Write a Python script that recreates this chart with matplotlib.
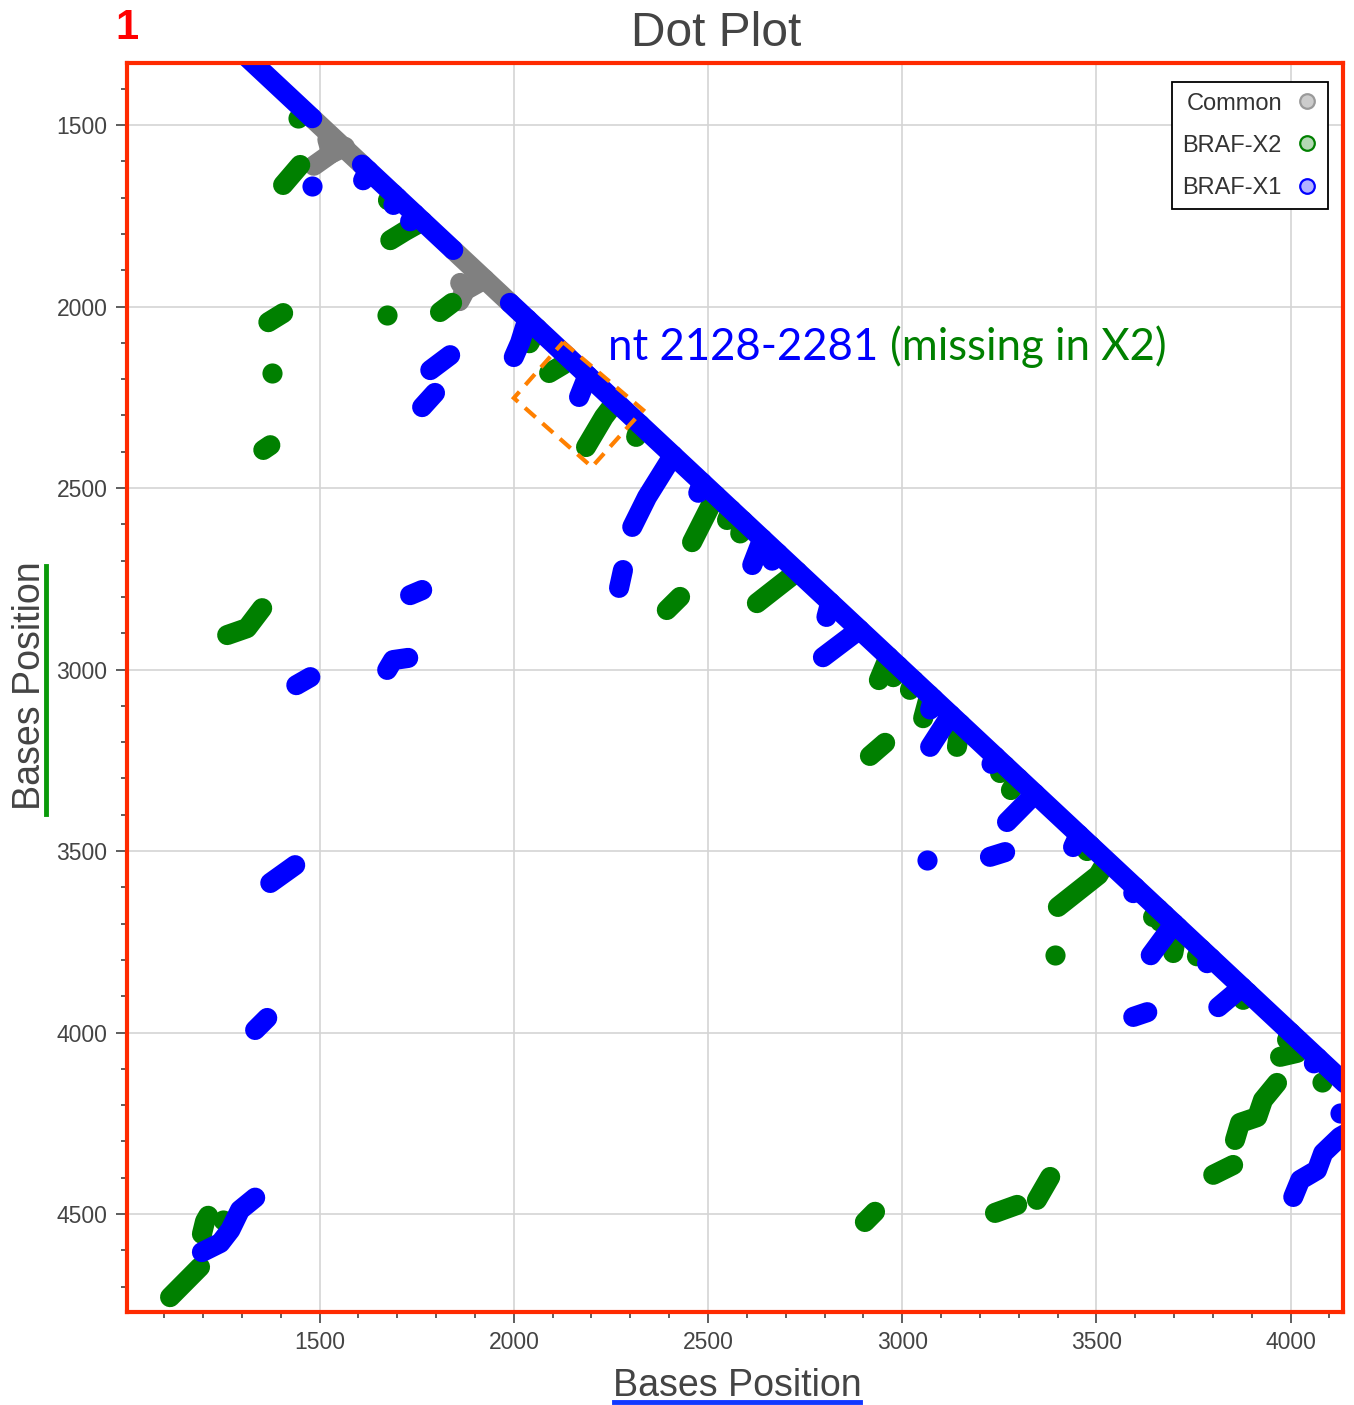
import matplotlib
matplotlib.use("Agg")
import matplotlib.pyplot as plt
from matplotlib.collections import LineCollection
from matplotlib.lines import Line2D
from matplotlib.patches import Polygon
from matplotlib.ticker import MultipleLocator

W, H, DPI = 1354, 1405, 100

# ---- match runs: each path is a chain of (x position, y position) points ----
common_paths = [
    [(1481, 1481), (1609, 1609)],
    [(1844, 1844), (1990, 1990)],
    [(1565, 1560), (1530, 1578), (1485, 1612)],
    [(1530, 1578), (1520, 1540)],
    [(1925, 1925), (1875, 1955), (1860, 1985)],
    [(1875, 1955), (1862, 1935)],
]

x2_paths = [
    [(1450, 1610), (1406, 1665)],
    [(1765, 1765), (1720, 1792), (1682, 1817)],
    [(1368, 2043), (1406, 2018)],
    [(1810, 2015), (1841, 1990)],
    [(1355, 2395), (1373, 2382)],
    [(2127, 2160), (2091, 2183)],
    [(2262, 2262), (2232, 2304), (2186, 2387)],
    [(2325, 2325), (2315, 2359)],
    [(2394, 2836), (2428, 2800)],
    [(2520, 2520), (2459, 2649)],
    [(2730, 2730), (2626, 2817)],
    [(2917, 3238), (2956, 3202)],
    [(2965, 2965), (2940, 3029)],
    [(3070, 3070), (3054, 3134)],
    [(3150, 3150), (3141, 3213)],
    [(3300, 3300), (3280, 3332)],
    [(3525, 3530), (3505, 3566), (3401, 3654)],
    [(3710, 3710), (3698, 3781)],
    [(3890, 3890), (3878, 3910)],
    [(3973, 4067), (4017, 4056)],
    [(3965, 4139), (3929, 4186), (3914, 4233), (3870, 4249), (3857, 4296)],
    [(3801, 4392), (3852, 4365)],
    [(3347, 4461), (3381, 4398)],
    [(3239, 4497), (3296, 4475)],
    [(2904, 4522), (2930, 4494)],
    [(1192, 4646), (1115, 4729)],
    [(1197, 4555), (1205, 4520), (1213, 4505)],
    [(1262, 2905), (1313, 2886), (1352, 2831)],
    [(1690, 1690), (1676, 1707)],
    [(2060, 2060), (2040, 2101)],
    [(2560, 2560), (2549, 2588)],
    [(2590, 2590), (2583, 2625)],
    [(2990, 2990), (2977, 3021)],
    [(3030, 3030), (3020, 3056)],
    [(3265, 3265), (3252, 3285)],
    [(3485, 3485), (3476, 3500)],
    [(3660, 3660), (3646, 3682)],
    [(3675, 3675), (3664, 3695)],
    [(3770, 3770), (3759, 3790)],
    [(4000, 4000), (3991, 4020)],
]
x2_dots_x = [1445, 1674, 1378, 3394, 4081, 1252]
x2_dots_y = [1481, 2023, 2183, 3787, 4136, 4516]

x1_paths = [
    [(1300, 1300), (1481, 1481)],
    [(1609, 1609), (1844, 1844)],
    [(1990, 1990), (4140, 4140)],
    [(1625, 1625), (1612, 1652)],
    [(1700, 1700), (1690, 1720)],
    [(1745, 1745), (1733, 1765)],
    [(2035, 2035), (2016, 2100), (2000, 2139)],
    [(1785, 2175), (1836, 2134)],
    [(1764, 2277), (1797, 2238)],
    [(2190, 2190), (2168, 2249)],
    [(2410, 2410), (2343, 2525), (2305, 2607)],
    [(2281, 2726), (2271, 2775)],
    [(2485, 2485), (2475, 2513)],
    [(2640, 2640), (2614, 2712)],
    [(2680, 2680), (2665, 2700)],
    [(2815, 2815), (2805, 2855)],
    [(2890, 2890), (2796, 2966)],
    [(3080, 3080), (3072, 3110)],
    [(3125, 3125), (3072, 3213)],
    [(3240, 3240), (3230, 3260)],
    [(3342, 3342), (3270, 3420)],
    [(3226, 3516), (3265, 3503)],
    [(3455, 3455), (3440, 3489)],
    [(3600, 3600), (3595, 3616)],
    [(3700, 3700), (3640, 3787)],
    [(3595, 3957), (3631, 3944)],
    [(3795, 3795), (3785, 3809)],
    [(3875, 3875), (3814, 3930)],
    [(4070, 4070), (4060, 4085)],
    [(4140, 4280), (4127, 4288), (4084, 4332), (4068, 4379), (4025, 4406), (4007, 4453)],
    [(1334, 4455), (1295, 4489), (1270, 4544), (1244, 4580), (1197, 4605)],
    [(1373, 3588), (1437, 3539)],
    [(1334, 3993), (1365, 3960)],
    [(1440, 3043), (1476, 3021)],
    [(1674, 3001), (1689, 2974), (1728, 2968)],
    [(1733, 2795), (1764, 2781)],
]
x1_dots_x = [1481, 3064, 4127]
x1_dots_y = [1668, 3525, 4222]

series_names = ["Common", "BRAF-X2", "BRAF-X1"]
series_colors = ["#808080", "#008000", "#0000ff"]
legend_faces = ["#cccccc", "#b2d8b2", "#b2b2ff"]
legend_edges = ["#9a9a9a", "#008000", "#0000ff"]

x_ticks = [1500, 2000, 2500, 3000, 3500, 4000]
y_ticks = [1500, 2000, 2500, 3000, 3500, 4000, 4500]

# deleted region outline (dashed box across the diagonal)
box_x = [2127, 2333, 2201, 2000]
box_y = [2098, 2285, 2442, 2252]

# ---- figure ----
fig = plt.figure(figsize=(W / DPI, H / DPI), dpi=DPI)
L, R, T, B = 127, 1343, 63, 1312
ax = fig.add_axes([L / W, 1 - B / H, (R - L) / W, (B - T) / H])
ax.set_xlim(1004, 4135)
ax.set_ylim(4770, 1329)

LW = 14.5  # stroke width in points = dot diameter
all_paths = [common_paths, x2_paths, x1_paths]
all_dots = [([], []), (x2_dots_x, x2_dots_y), (x1_dots_x, x1_dots_y)]
for z, (paths, dots, col) in enumerate(zip(all_paths, all_dots, series_colors)):
    lc = LineCollection(paths, colors=col, linewidths=LW, capstyle="round",
                        joinstyle="round", zorder=3 + z)
    ax.add_collection(lc)
    if dots[0]:
        ax.scatter(dots[0], dots[1], s=LW ** 2, color=col, linewidths=0,
                   zorder=3 + z)

box = Polygon(list(zip(box_x, box_y)), closed=True, fill=False,
              edgecolor="#ff8000", linewidth=3.0, linestyle=(0, (3.4, 2.2)),
              zorder=10)
ax.add_patch(box)

# ---- axes styling ----
ax.set_xticks(x_ticks)
ax.set_yticks(y_ticks)
ax.xaxis.set_minor_locator(MultipleLocator(100))
ax.yaxis.set_minor_locator(MultipleLocator(100))
ax.grid(True, which="major", color="#d4d4d4", linewidth=1.2, zorder=0)
ax.set_axisbelow(True)
for sp in ax.spines.values():
    sp.set_color("#ff2a00")
    sp.set_linewidth(3.0)
    sp.set_zorder(20)
ax.tick_params(which="major", length=8, width=1.1, color="#333333",
               labelsize=16.5, labelcolor="#444444", pad=6)
ax.tick_params(which="minor", length=4.5, width=1.1, color="#333333")
for lab in ax.get_xticklabels() + ax.get_yticklabels():
    lab.set_family("Liberation Sans")

handles = [Line2D([], [], ls="none", marker="o", ms=10.5, mfc=fc, mec=ec, mew=1.6)
           for fc, ec in zip(legend_faces, legend_edges)]
leg = ax.legend(handles, series_names, loc="upper right", markerfirst=False,
                bbox_to_anchor=((1328 - L) / (R - L), 1 - (82 - T) / (B - T)),
                borderaxespad=0, fancybox=False, framealpha=1, edgecolor="black",
                prop={"family": "Liberation Sans", "size": 17},
                labelspacing=0.85, borderpad=0.45, handlelength=0.9,
                handletextpad=0.6)
leg.get_frame().set_linewidth(1.3)
for t in leg.get_texts():
    t.set_color("#333333")
leg.set_zorder(30)

# ---- titles and labels ----
fig.text(716 / W, 1 - 33 / H, "Dot Plot", ha="center", va="center",
         fontsize=34.5, color="#444444", family="Liberation Sans")
fig.text(127 / W, 1 - 28 / H, "1", ha="center", va="center", fontsize=30,
         fontweight="bold", color="#ff0000", family="Liberation Sans")

fig.text(737 / W, 1 - 1396 / H, "Bases Position", ha="center", va="baseline",
         fontsize=27, color="#444444", family="Liberation Sans")
fig.add_artist(Line2D([614 / W, 860 / W], [1 - 1402 / H, 1 - 1402 / H],
                      color="#1238ff", linewidth=3.5, transform=fig.transFigure))

fig.text(48 / W, 1 - 686 / H, "Bases Position", ha="right", va="center",
         rotation=90, fontsize=27, color="#444444", family="Liberation Sans")
fig.add_artist(Line2D([46 / W, 46 / W], [1 - 566 / H, 1 - 814 / H],
                      color="#0a9a0a", linewidth=3.5, transform=fig.transFigure))

fig.text(608 / W, 1 - 360 / H, "nt 2128-2281", ha="left", va="baseline",
         fontsize=31.5, color="#0000ff", family="Lato")
fig.text(890 / W, 1 - 360 / H, "(missing in X2)", ha="left", va="baseline",
         fontsize=31.5, color="#008000", family="Lato")

fig.savefig("out.png", dpi=DPI)
